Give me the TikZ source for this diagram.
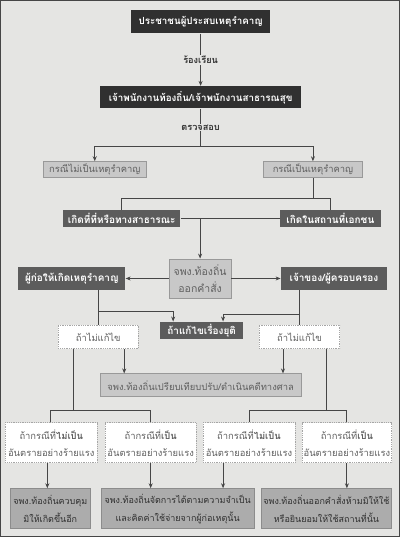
\documentclass[tikz,border=0pt]{standalone}
\usepackage{fontspec}
\setmainfont[Script=Thai]{Loma}
\usetikzlibrary{arrows.meta}
\definecolor{paper}{RGB}{229,229,227}
\definecolor{boxdark}{RGB}{48,48,48}
\definecolor{boxmid}{RGB}{92,92,92}
\definecolor{boxlight}{RGB}{200,200,200}
\definecolor{boxgrey}{RGB}{172,172,172}
\definecolor{linecol}{RGB}{70,70,70}
\definecolor{textgrey}{RGB}{95,95,95}
\begin{document}
\begin{tikzpicture}[x=1pt, y=-1pt,
    every node/.style={inner sep=0pt, align=center, font=\fontsize{9.4}{12}\selectfont},
    darkbox/.style={fill=boxdark, text=white, font=\fontsize{9.8}{12}\selectfont\bfseries},
    midbox/.style={fill=boxmid, text=white, font=\fontsize{10}{12}\selectfont\bfseries},
    lightbox/.style={fill=boxlight, draw=gray!80, text=textgrey},
    dashbox/.style={fill=white, draw=gray!70, densely dotted, text=textgrey, font=\fontsize{9.4}{17}\selectfont},
    greybox/.style={fill=boxgrey, draw=gray!90, text=boxdark, font=\fontsize{9}{18}\selectfont},
    steplabel/.style={fill=paper, text=boxdark, inner sep=1pt, font=\fontsize{9.2}{11}\selectfont\bfseries},
    every path/.style={draw=linecol, line width=0.8pt},
    tip/.style={-{Stealth[length=5pt,width=4pt]}}]
            % background
            \fill[paper, draw=none] (0,0) rectangle (400,537);
            \useasboundingbox (0,0) rectangle (400,537);

            % top two boxes
            \node[darkbox, minimum width=139pt, minimum height=23pt] (people) at (200.5,21.5) {ประชาชนผู้ประสบเหตุรำคาญ};
            \node[darkbox, minimum width=201pt, minimum height=22pt] (officer) at (200.5,97) {เจ้าพนักงานท้องถิ่น/เจ้าพนักงานสาธารณสุข};

            % cases
            \node[lightbox, minimum width=103pt, minimum height=16pt] (notnuis) at (94.5,169.5) {กรณีไม่เป็นเหตุรำคาญ};
            \node[lightbox, minimum width=100pt, minimum height=16pt] (isnuis) at (313,169.5) {กรณีเป็นเหตุรำคาญ};
            \node[midbox, minimum width=117pt, minimum height=17pt] (public) at (121.5,218.5) {เกิดที่ที่หรือทางสาธารณะ};
            \node[midbox, minimum width=101pt, minimum height=17pt] (private) at (330.5,218.5) {เกิดในสถานที่เอกชน};

            % order row
            \node[lightbox, minimum width=62pt, minimum height=39pt, font=\fontsize{10.5}{17}\selectfont] (order) at (200,278.5) {จพง.ท้องถิ่น\\ออกคำสั่ง};
            \node[midbox, minimum width=107pt, minimum height=23pt] (cause) at (71.5,278.5) {ผู้ก่อให้เกิดเหตุรำคาญ};
            \node[midbox, minimum width=106pt, minimum height=23pt] (owner) at (334,278.5) {เจ้าของ/ผู้ครอบครอง};

            % fixed or not
            \node[midbox, minimum width=83pt, minimum height=17pt] (ended) at (201.5,330.5) {ถ้าแก้ไขเรื่องยุติ};
            \node[dashbox, minimum width=80pt, minimum height=24pt] (nofixl) at (98,337) {ถ้าไม่แก้ไข};
            \node[dashbox, minimum width=81pt, minimum height=24pt] (nofixr) at (299.5,337) {ถ้าไม่แก้ไข};
            \node[lightbox, minimum width=201pt, minimum height=23pt] (fine) at (200.5,385.5) {จพง.ท้องถิ่นเปรียบเทียบปรับ/ดำเนินคดีทางศาล};

            % danger cases
            \node[dashbox, minimum width=92pt, minimum height=40pt] (casea) at (51,443) {ถ้ากรณีที่\textbf{ไม่เป็น}\\อันตรายอย่างร้ายแรง};
            \node[dashbox, minimum width=91pt, minimum height=40pt] (caseb) at (150.5,443) {ถ้ากรณีที่\textbf{เป็น}\\อันตรายอย่างร้ายแรง};
            \node[dashbox, minimum width=92pt, minimum height=40pt] (casec) at (249,443) {ถ้ากรณีที่\textbf{ไม่เป็น}\\อันตรายอย่างร้ายแรง};
            \node[dashbox, minimum width=90pt, minimum height=40pt] (cased) at (347,443) {ถ้ากรณีที่\textbf{เป็น}\\อันตรายอย่างร้ายแรง};

            % results
            \node[greybox, minimum width=80pt, minimum height=40pt] (resa) at (50,509) {จพง.ท้องถิ่นควบคุม\\มิให้เกิดขึ้นอีก};
            \node[greybox, minimum width=153pt, minimum height=40pt] (resb) at (177.5,509) {จพง.ท้องถิ่นจัดการได้ตามความจำเป็น\\และคิดค่าใช้จ่ายจากผู้ก่อเหตุนั้น};
            \node[greybox, minimum width=131pt, minimum height=40pt] (resc) at (326.5,509) {จพง.ท้องถิ่นออกคำสั่งห้ามมิให้ใช้\\หรือยินยอมให้ใช้สถานที่นั้น};

            % split points
            \coordinate (splita) at (200.5,146);
            \coordinate (splitb) at (313,198);
            \coordinate (joinc) at (200,218.5);
            \coordinate (fixl) at (98,311);
            \coordinate (fixr) at (299.5,314);
            \coordinate (splitd) at (73,411);
            \coordinate (splite) at (326,411);

            % connectors top
            \draw[tip] (people) -- node[steplabel] {ร้องเรียน} (officer);
            \draw (officer) -- node[steplabel] {ตรวจสอบ} (splita);
            \draw[tip] (splita) -| (notnuis);
            \draw[tip] (splita) -| (isnuis);
            \draw (isnuis) -- (splitb);
            \draw (splitb) -| (public);
            \draw (splitb) -| (private);
            \draw (public) -- (private);
            \draw[tip] (joinc) -- (order);
            \draw[tip] (order) -- (cause);
            \draw[tip] (order) -- (owner);

            % connectors middle
            \draw (nofixl |- cause.south) -- (nofixl);
            \draw[tip] (fixl) -| ([xshift=-28.5pt]ended.north);
            \draw (nofixr |- owner.south) -- (nofixr);
            \draw[tip] (fixr) -| ([xshift=21.5pt]ended.north);
            \draw[tip] ([xshift=26pt]nofixl.south) -- ([xshift=26pt]nofixl.south |- fine.north);
            \draw[tip] ([xshift=-16.5pt]nofixr.south) -- ([xshift=-16.5pt]nofixr.south |- fine.north);

            % connectors bottom
            \draw (splitd |- nofixl.south) -- (splitd);
            \draw ([xshift=-1pt]casea.north) |- (splitd) -| (caseb);
            \draw (splite |- nofixr.south) -- (splite);
            \draw (casec) |- (splite) -| (cased);
            \draw[tip] ([xshift=-4pt]casea.south) -- ([xshift=-4pt]casea.south |- resa.north);
            \draw[tip] (caseb) -- (caseb |- resb.north);
            \draw[tip] ([xshift=-26pt]casec.south) -- ([xshift=-26pt]casec.south |- resb.north);
            \draw[tip] (cased) -- (cased |- resc.north);
        \end{tikzpicture}
\end{document}
